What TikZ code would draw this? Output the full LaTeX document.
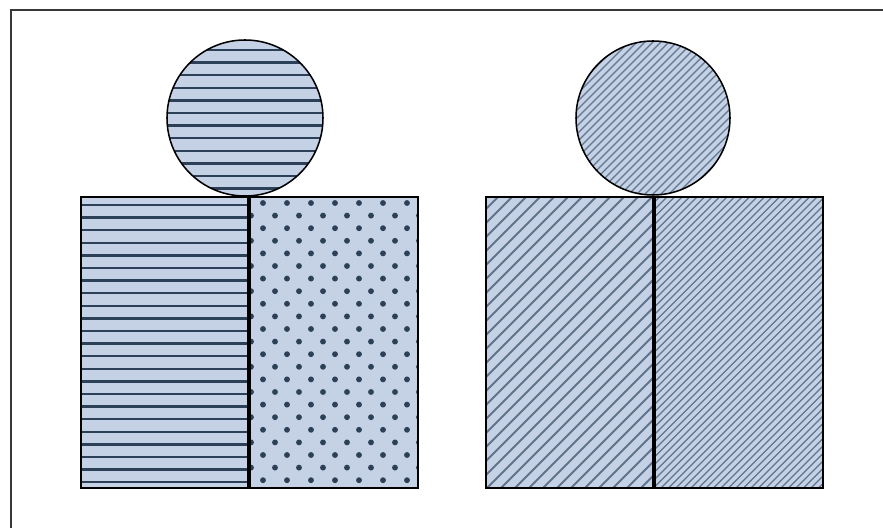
\documentclass[tikz,border=0pt]{standalone}
\usepackage{tikz}
\usetikzlibrary{calc}
\definecolor{panelfill}{RGB}{197, 209, 229}
\definecolor{stripecol}{RGB}{44, 64, 88}
\definecolor{hatchcol}{RGB}{96, 116, 140}
\definecolor{framecol}{RGB}{55, 55, 55}
\tikzset{
  % shapes: light blue fill, black rim
  panel/.style={fill=panelfill},
  rim/.style={draw=black, line width=1.3pt},
  divider/.style={draw=black, line width=3pt},
  %
  % fill patterns, drawn by hand inside a clip
  hstripe/.style={draw=stripecol, line width=2.2pt},
  coarse hatch/.style={draw=hatchcol, line width=1.8pt},
  fine hatch/.style={draw=hatchcol, line width=1.1pt},
  dot/.style={fill=stripecol},
  %
  % cropped frame (top and left edge only)
  frame/.style={draw=framecol, line width=1.2pt},
}

\begin{document}
\begin{tikzpicture}[x=0.03cm, y=0.03cm]

  \useasboundingbox (0,0) rectangle (883,528);

  %% ── Frame ─────────────────────────────────────────────────────────────────
  \coordinate (fbl) at (11,0);
  \coordinate (ftl) at (11,518);
  \coordinate (ftr) at (883,518);
  \draw[frame] (fbl) -- (ftl) -- (ftr);

  %% ── Left figure ───────────────────────────────────────────────────────────
  \coordinate (lbl) at (81,40);
  \coordinate (lmb) at (249,40);
  \coordinate (lmt) at (249,331);
  \coordinate (ltr) at (418,331);
  \coordinate (lc)  at (245,410);

  % head: horizontal stripes
  \fill[panel] (lc) circle (2.34cm);
  \begin{scope}
    \clip (lc) circle (2.34cm);
    \foreach \yy in {478,465.4,...,330}
      \draw[hstripe] (160,\yy) -- (330,\yy);
  \end{scope}
  \draw[rim] (lc) circle (2.34cm);

  % left half: horizontal stripes
  \fill[panel] (lbl) rectangle (lmt);
  \begin{scope}
    \clip (lbl) rectangle (lmt);
    \foreach \yy in {323,310.4,...,38}
      \draw[hstripe] (81,\yy) -- (249,\yy);
  \end{scope}

  % right half: staggered dots
  \fill[panel] (lmb) rectangle (ltr);
  \begin{scope}
    \clip (lmb) rectangle (ltr);
    \foreach \i [evaluate=\i as \yy using {325-12.6*\i},
                 evaluate=\i as \xs using {263-12*mod(\i,2)}] in {0,...,23}
      \foreach \k in {0,...,7}
        \fill[dot] (\xs+24*\k,\yy) circle (0.088cm);
  \end{scope}

  \draw[rim] (lbl) rectangle (ltr);
  \draw[divider] (lmb) -- (lmt);

  %% ── Right figure ──────────────────────────────────────────────────────────
  \coordinate (rbl) at (486,40);
  \coordinate (rmb) at (654,40);
  \coordinate (rmt) at (654,331);
  \coordinate (rtr) at (823,331);
  \coordinate (rc)  at (653,410);

  % head: fine hatch
  \fill[panel] (rc) circle (2.31cm);
  \begin{scope}
    \clip (rc) circle (2.31cm);
    \foreach \c in {420,428,...,732}
      \draw[fine hatch] (\c,333) -- ++(154,154);
  \end{scope}
  \draw[rim] (rc) circle (2.31cm);

  % left half: coarse hatch
  \fill[panel] (rbl) rectangle (rmt);
  \begin{scope}
    \clip (rbl) rectangle (rmt);
    \foreach \c in {193,207,...,656}
      \draw[coarse hatch] (\c,40) -- ++(291,291);
  \end{scope}

  % right half: fine hatch
  \fill[panel] (rmb) rectangle (rtr);
  \begin{scope}
    \clip (rmb) rectangle (rtr);
    \foreach \c in {361,368.5,...,826}
      \draw[fine hatch] (\c,40) -- ++(291,291);
  \end{scope}

  \draw[rim] (rbl) rectangle (rtr);
  \draw[divider] (rmb) -- (rmt);

\end{tikzpicture}
\end{document}
